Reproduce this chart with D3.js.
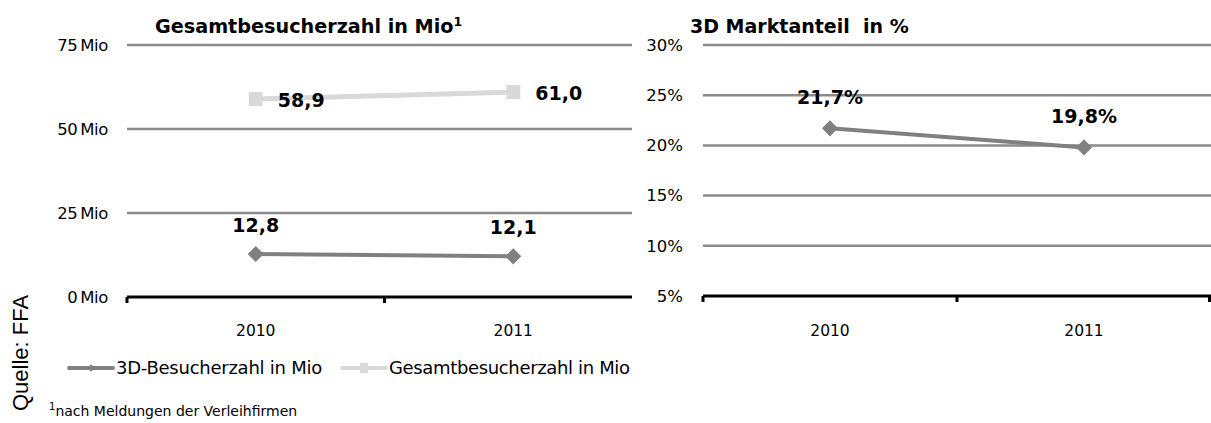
<!DOCTYPE html>
<html><head><meta charset="utf-8">
<script src="https://cdn.jsdelivr.net/npm/d3@7"></script>
<style>
body{margin:0;background:#fff;}
svg{display:block;}
text{font-family:"DejaVu Sans",Verdana,sans-serif;}
</style></head>
<body>
<svg id="c" width="1211" height="423"></svg>
<script>
const years = ["2010","2011"];
const besucher3D = [12.8, 12.1];
const gesamt = [58.9, 61.0];
const marktanteil = [21.7, 19.8];
const leftTicks = [0, 25, 50, 75];
const rightTicks = [5, 10, 15, 20, 25, 30];
const labels3D = ["12,8", "12,1"];
const labelsGesamt = ["58,9", "61,0"];
const labelsAnteil = ["21,7%", "19,8%"];

const svg = d3.select("#c");
const dark = "#808080", light = "#d9d9d9", grid = "#8a8a8a";
const tickFs = 16.5, yearFs = 15.5, valFs = 19;

// ---------- Left chart ----------
const xL = d3.scaleBand().domain(years).range([127, 642]);
const yL = d3.scaleLinear().domain([0, 75]).range([297, 45]);
const gL = svg.append("g");
const leftEnd = 632;
leftTicks.filter(t => t > 0).forEach(t => {
  gL.append("line").attr("x1", 127).attr("x2", leftEnd).attr("y1", yL(t)).attr("y2", yL(t))
    .attr("stroke", grid).attr("stroke-width", 2.5);
});
leftTicks.forEach(t => {
  gL.append("text").attr("x", 108).attr("y", yL(t)).attr("dy", "0.35em")
    .attr("text-anchor", "end").attr("font-size", tickFs).attr("letter-spacing", -0.4)
    .text(t + "\u2009Mio");
});
gL.append("line").attr("x1", 127).attr("x2", leftEnd).attr("y1", yL(0)).attr("y2", yL(0))
  .attr("stroke", "#000").attr("stroke-width", 3);
[xL("2010"), xL("2011")].forEach(x => {
  gL.append("line").attr("x1", x).attr("x2", x).attr("y1", yL(0)).attr("y2", yL(0) + 6)
    .attr("stroke", "#000").attr("stroke-width", 3);
});
const cx = (s, y) => s(y) + s.bandwidth() / 2;
years.forEach(y => {
  gL.append("text").attr("x", cx(xL, y)).attr("y", 336)
    .attr("text-anchor", "middle").attr("font-size", yearFs).text(y);
});
const lineL = d3.line().x((d, i) => cx(xL, years[i])).y(d => yL(d));
gL.append("path").attr("d", lineL(gesamt)).attr("fill", "none").attr("stroke", light).attr("stroke-width", 5);
gesamt.forEach((v, i) => {
  gL.append("rect").attr("x", cx(xL, years[i]) - 7).attr("y", yL(v) - 7).attr("width", 14).attr("height", 14).attr("fill", light);
});
gL.append("path").attr("d", lineL(besucher3D)).attr("fill", "none").attr("stroke", dark).attr("stroke-width", 4);
besucher3D.forEach((v, i) => {
  gL.append("path").attr("d", d3.symbol().type(d3.symbolSquare).size(130)())
    .attr("transform", `translate(${cx(xL, years[i])},${yL(v)}) rotate(45)`).attr("fill", dark);
});
gesamt.forEach((v, i) => {
  gL.append("text").attr("x", cx(xL, years[i]) + 22).attr("y", yL(v) + 1).attr("dy", "0.35em")
    .attr("font-size", valFs).attr("font-weight", "bold").text(labelsGesamt[i]);
});
besucher3D.forEach((v, i) => {
  gL.append("text").attr("x", cx(xL, years[i])).attr("y", yL(v) - 29).attr("dy", "0.35em")
    .attr("text-anchor", "middle").attr("font-size", valFs).attr("font-weight", "bold").text(labels3D[i]);
});
const tL = gL.append("text").attr("x", 155).attr("y", 33).attr("font-size", 19.2).attr("font-weight", "bold")
  .text("Gesamtbesucherzahl in Mio");
tL.append("tspan").attr("font-size", 12.5).attr("dy", -7).text("1");

// ---------- Right chart ----------
const xR = d3.scaleBand().domain(years).range([703, 1211]);
const yR = d3.scaleLinear().domain([5, 30]).range([296, 45]);
const gR = svg.append("g");
rightTicks.filter(t => t > 5).forEach(t => {
  gR.append("line").attr("x1", 703).attr("x2", 1211).attr("y1", yR(t)).attr("y2", yR(t))
    .attr("stroke", grid).attr("stroke-width", 2.5);
});
rightTicks.forEach(t => {
  gR.append("text").attr("x", 683).attr("y", yR(t)).attr("dy", "0.35em")
    .attr("text-anchor", "end").attr("font-size", tickFs).text(t + "%");
});
gR.append("line").attr("x1", 703).attr("x2", 1211).attr("y1", yR(5)).attr("y2", yR(5))
  .attr("stroke", "#000").attr("stroke-width", 3);
[xR("2010"), xR("2011"), 1209.5].forEach(x => {
  gR.append("line").attr("x1", x).attr("x2", x).attr("y1", yR(5)).attr("y2", yR(5) + 6)
    .attr("stroke", "#000").attr("stroke-width", 3);
});
years.forEach(y => {
  gR.append("text").attr("x", cx(xR, y)).attr("y", 336)
    .attr("text-anchor", "middle").attr("font-size", yearFs).text(y);
});
const lineR = d3.line().x((d, i) => cx(xR, years[i])).y(d => yR(d));
gR.append("path").attr("d", lineR(marktanteil)).attr("fill", "none").attr("stroke", dark).attr("stroke-width", 4);
marktanteil.forEach((v, i) => {
  gR.append("path").attr("d", d3.symbol().type(d3.symbolSquare).size(130)())
    .attr("transform", `translate(${cx(xR, years[i])},${yR(v)}) rotate(45)`).attr("fill", dark);
});
marktanteil.forEach((v, i) => {
  gR.append("text").attr("x", cx(xR, years[i])).attr("y", yR(v) - 31).attr("dy", "0.35em")
    .attr("text-anchor", "middle").attr("font-size", valFs).attr("font-weight", "bold").text(labelsAnteil[i]);
});
gR.append("text").attr("x", 690).attr("y", 33).attr("font-size", 19).attr("font-weight", "bold")
  .attr("xml:space", "preserve").text("3D Marktanteil  in %");

// ---------- Legend ----------
const gLeg = svg.append("g");
gLeg.append("line").attr("x1", 69).attr("x2", 113).attr("y1", 368).attr("y2", 368).attr("stroke", dark).attr("stroke-width", 4).attr("stroke-linecap", "round");
gLeg.append("path").attr("d", d3.symbol().type(d3.symbolSquare).size(30)()).attr("transform", "translate(91,368) rotate(45)").attr("fill", dark);
gLeg.append("text").attr("x", 116).attr("y", 368).attr("dy", "0.35em").attr("font-size", 18).attr("letter-spacing", -0.25).text("3D-Besucherzahl in Mio");
gLeg.append("line").attr("x1", 342).attr("x2", 386).attr("y1", 368).attr("y2", 368).attr("stroke", light).attr("stroke-width", 4).attr("stroke-linecap", "round");
gLeg.append("rect").attr("x", 360).attr("y", 363).attr("width", 8).attr("height", 10).attr("fill", light);
gLeg.append("text").attr("x", 389).attr("y", 368).attr("dy", "0.35em").attr("font-size", 18).attr("letter-spacing", -0.35).text("Gesamtbesucherzahl in Mio");

// ---------- Source & footnote ----------
svg.append("text").attr("transform", "translate(28,411) rotate(-90)")
  .style("font-family", "'Liberation Sans',Arial,sans-serif").attr("font-size", 22).text("Quelle: FFA");
const fn = svg.append("text").attr("x", 49).attr("y", 416).attr("font-size", 14);
fn.append("tspan").attr("font-size", 10).attr("dy", -6).text("1");
fn.append("tspan").attr("dy", 6).text("nach Meldungen der Verleihfirmen");
</script>
</body></html>
